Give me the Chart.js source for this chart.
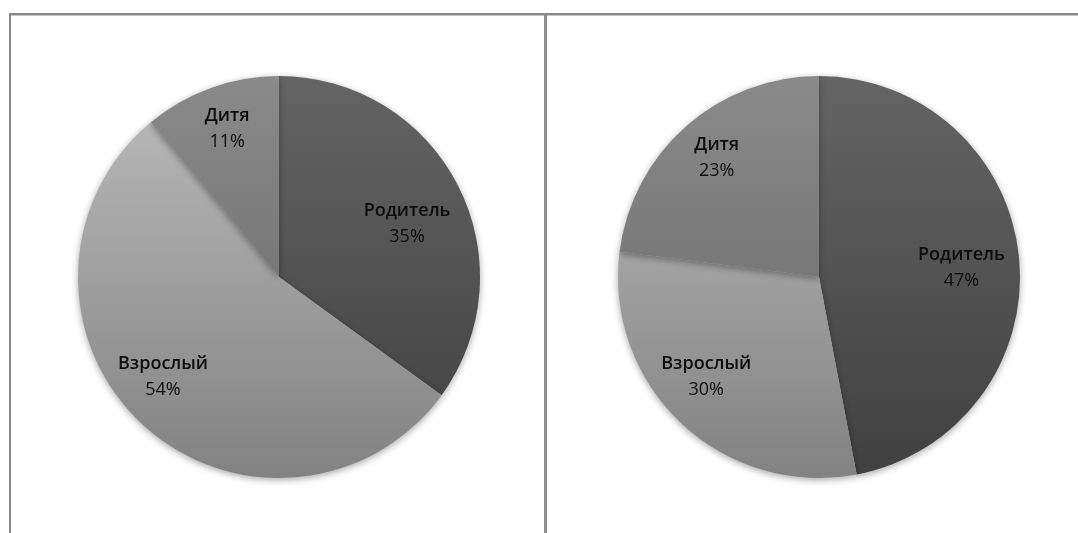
<!DOCTYPE html>
<html><head><meta charset="utf-8">
<script src="https://cdn.jsdelivr.net/npm/chart.js@4.4.1/dist/chart.umd.min.js"></script>
<style>
html,body{margin:0;padding:0;background:#fff;width:1078px;height:533px;overflow:hidden;position:relative;}
.box{position:absolute;top:13px;height:600px;border-top:2px solid #888;box-shadow:inset 0 1px 0 #c4c4c4;}
#b1{left:9px;width:534px;border-left:2px solid #888;}
#b2{left:544px;width:600px;border-left:3px solid #8e8e8e;}
canvas{position:absolute;}
#c1{left:59px;top:57px;}
#c2{left:599px;top:57px;}
</style></head>
<body>
<div class="box" id="b1"></div>
<div class="box" id="b2"></div>
<canvas id="c1" width="440" height="440"></canvas>
<canvas id="c2" width="440" height="440"></canvas>
<script>
const categories = ['Родитель', 'Взрослый', 'Дитя'];
const leftValues = [35, 54, 11];
const rightValues = [47, 30, 23];

const topColors = ['#646464', '#bcbcbc', '#8a8a8a'];
const bottomColors = ['#404040', '#828282', '#666666'];

function gradFill(ctx) {
  const chart = ctx.chart;
  const area = chart.chartArea;
  if (!area) return topColors[ctx.dataIndex];
  const g = chart.ctx.createLinearGradient(0, area.top, 0, area.bottom);
  g.addColorStop(0, topColors[ctx.dataIndex]);
  g.addColorStop(1, bottomColors[ctx.dataIndex]);
  return g;
}

const shadowPlugin = {
  id: 'pieShadow',
  beforeDatasetsDraw(chart) {
    const c = chart.ctx;
    c.save();
    c.shadowColor = 'rgba(0,0,0,0.35)';
    c.shadowBlur = 7;
    c.shadowOffsetY = 2;
  },
  afterDatasetsDraw(chart) { chart.ctx.restore(); }
};

const labelPlugin = {
  id: 'sliceLabels',
  afterDraw(chart, args, opts) {
    const c = chart.ctx;
    const meta = chart.getDatasetMeta(0);
    const vals = chart.data.datasets[0].data;
    const total = vals.reduce((a, b) => a + b, 0);
    c.save();
    c.fillStyle = '#0d0d0d';
    c.textAlign = 'center';
    c.textBaseline = 'middle';
    meta.data.forEach((arc, i) => {
      const mid = (arc.startAngle + arc.endAngle) / 2 + (opts.angleShift[i] || 0) * Math.PI / 180;
      const r = arc.outerRadius * opts.radial[i];
      const x = arc.x + Math.cos(mid) * r;
      const y = arc.y + Math.sin(mid) * r;
      c.font = '600 18px "Open Sans"';
      c.fillText(chart.data.labels[i], x, y - 13);
      c.font = '500 18px "Open Sans"';
      c.fillText(Math.round(vals[i] / total * 100) + '%', x, y + 13);
    });
    c.restore();
  }
};

function makeChart(id, values, radial, angleShift) {
  return new Chart(document.getElementById(id), {
    type: 'pie',
    data: {
      labels: categories,
      datasets: [{ data: values, backgroundColor: gradFill, borderWidth: 0 }]
    },
    options: {
      responsive: false,
      animation: false,
      layout: { padding: 19 },
      plugins: {
        legend: { display: false },
        tooltip: { enabled: false },
        sliceLabels: { radial: radial, angleShift: angleShift }
      }
    },
    plugins: [shadowPlugin, labelPlugin]
  });
}

makeChart('c1', leftValues, [0.69, 0.76, 0.78], [4.4, 6.2, 0.5]);
makeChart('c2', rightValues, [0.71, 0.75, 0.78], [1.8, 5.2, 0.7]);
</script>
</body></html>
